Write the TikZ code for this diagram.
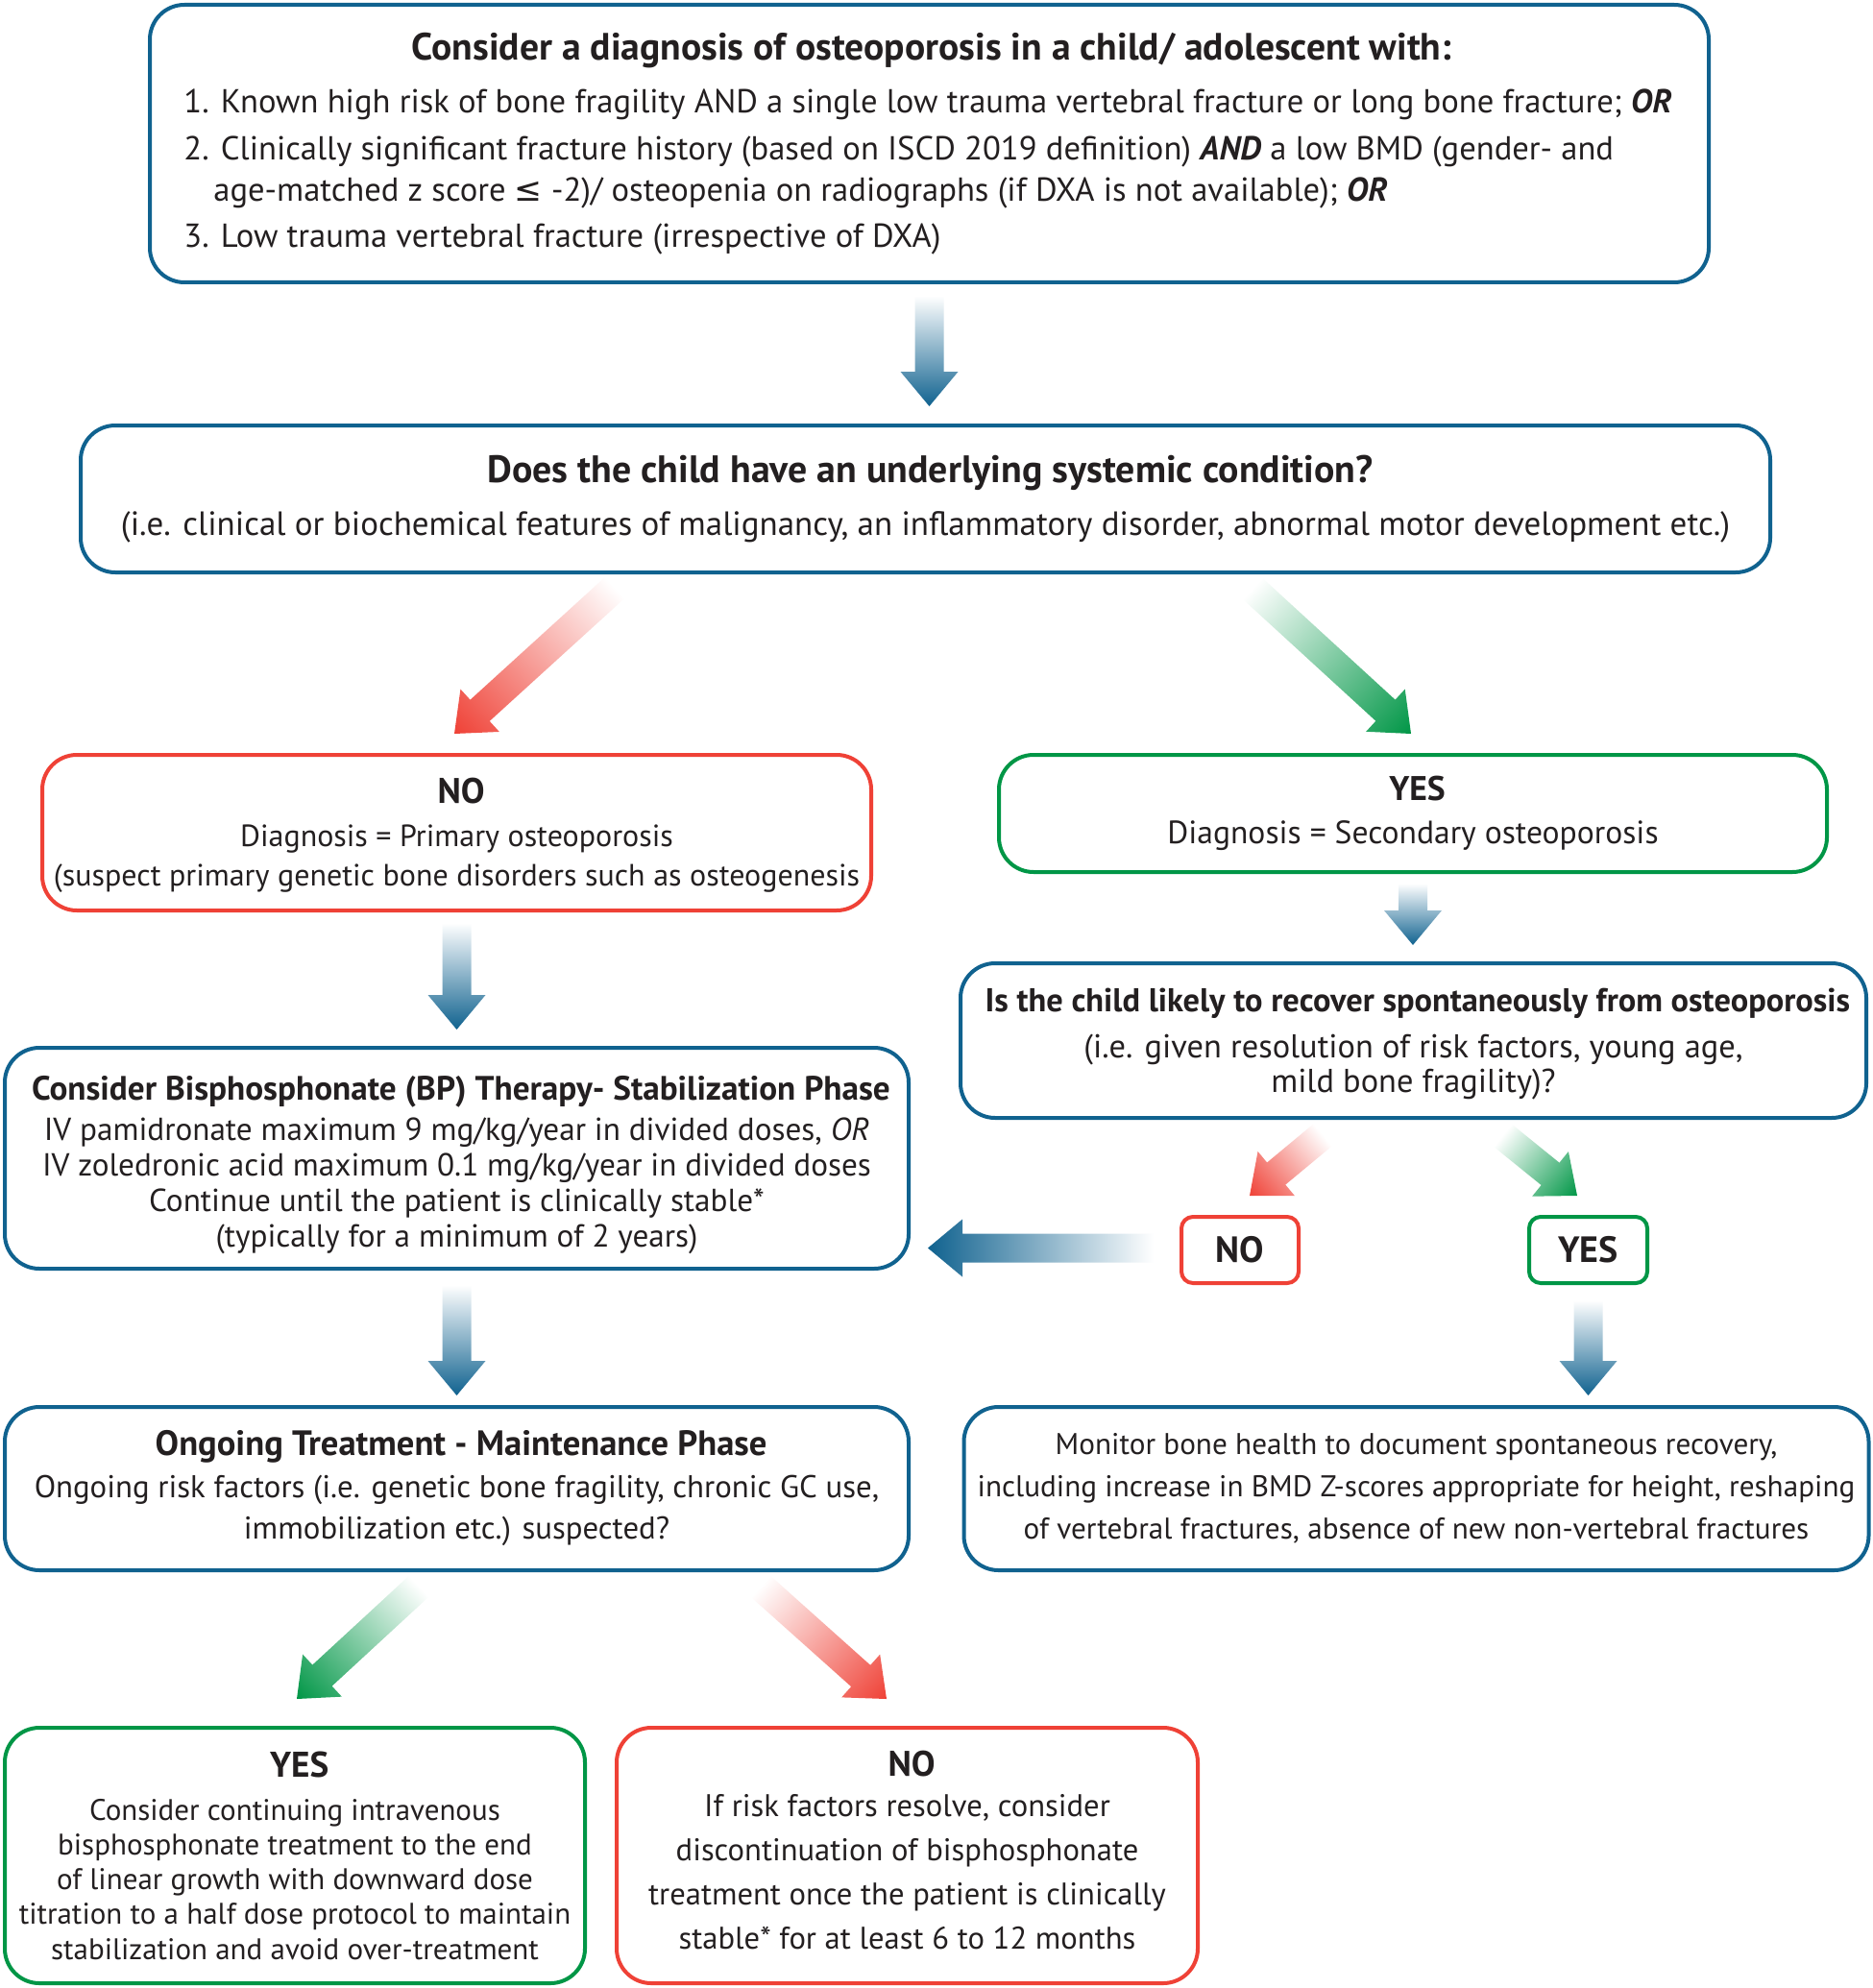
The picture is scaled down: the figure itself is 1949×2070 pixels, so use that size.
\documentclass[tikz,border=0pt]{standalone}
\usepackage{fontspec}
\setmainfont{PT Sans}
\newfontfamily\djv{DejaVu Sans}
\usetikzlibrary{calc}
\definecolor{bblue}{RGB}{16,98,143}
\definecolor{rred}{RGB}{239,65,54}
\definecolor{ggreen}{RGB}{0,150,70}
\definecolor{txt}{RGB}{35,31,32}
\newcommand\hf[1]{\fontsize{#1}{18.5}\selectfont\bfseries}
\newcommand\topfs{\fontsize{17.3}{19}\selectfont}
\newcommand\bi[1]{\textbf{\textit{#1}}}
\newcommand\grarrow[4]{%
  \begin{scope}[transform canvas={shift={(#1)},rotate=#2}]
    \shade[left color=white,right color=#4] (0,0) -- (-36,30) -- (-36,15) -- (-#3,15) -- (-#3,-15) -- (-36,-15) -- (-36,-30) -- cycle;
  \end{scope}}
\begin{document}
\begin{tikzpicture}[x=0.5pt,y=-0.5pt,
  box/.style={draw=#1,line width=2pt,rounded corners=18pt,fill=white,inner sep=0pt,align=center,text=txt},
  smallbox/.style={box=#1,rounded corners=6pt,font=\hf{19}},
  txtline/.style={inner sep=0pt,text=txt,align=center}]
\useasboundingbox[fill=white] (0,0) rectangle (1949,2070);

% ---------- top box
\node[box=bblue,minimum width=811.5pt,minimum height=144.5pt] (top) at (967.5,149.5) {};
\node[txtline,anchor=base,font=\hf{19.8}] (toptitle) at (970,63) {Consider a diagnosis of osteoporosis in a child/ adolescent with:};
\node[txtline,anchor=base west,font=\topfs] (it1) at (191,118) {1. Known high risk of bone fragility AND a single low trauma vertebral fracture or long bone fracture; \bi{OR}};
\node[txtline,anchor=base west,font=\topfs] (it2) at (191,167) {2. Clinically significant fracture history (based on ISCD 2019 definition) \bi{AND} a low BMD (gender- and};
\node[txtline,anchor=base west,font=\topfs] (it2b) at (222,210) {age-matched z score {\djv ≤} -2)/ osteopenia on radiographs (if DXA is not available); \bi{OR}};
\node[txtline,anchor=base west,font=\topfs] (it3) at (191,258) {3. Low trauma vertebral fracture (irrespective of DXA)};

% ---------- systemic condition
\node[box=bblue,minimum width=879.5pt,minimum height=76.5pt,font=\fontsize{17.5}{18.5}\selectfont] (cond) at (963.5,519.5)
  {{\hf{19.9} Does the child have an underlying systemic condition?}\\[9pt]
   (i.e. clinical or biochemical features of malignancy, an inflammatory disorder, abnormal motor development etc.)};

% ---------- NO / YES
\node[box=rred,minimum width=431.5pt,minimum height=81pt] (prim) at (475.5,867) {};
\node[txtline,font=\fontsize{16}{20.5}\selectfont] (prim-t) at ($(prim)+(0,3)$)
  {{\hf{18.5} NO}\\[2pt]Diagnosis = Primary osteoporosis\\(suspect primary genetic bone disorders such as osteogenesis};
\node[box=ggreen,minimum width=431pt,minimum height=61pt,font=\fontsize{16.8}{20.5}\selectfont] (sec) at (1471,847)
  {{\hf{17.8} YES}\\[2pt]Diagnosis = Secondary osteoporosis};

% ---------- recover question
\node[box=bblue,minimum width=471.5pt,minimum height=80.5pt] (rec) at (1471.5,1083.5) {};
\node[txtline,font=\fontsize{17.2}{18}\selectfont] (rec-t) at ($(rec)+(0,4)$)
  {{\hf{17.2} Is the child likely to recover spontaneously from osteoporosis}\\[6pt]
   (i.e. given resolution of risk factors, young age,\\mild bone fragility)?};

% ---------- BP therapy
\node[box=bblue,minimum width=470.5pt,minimum height=115pt] (bp) at (475.5,1206) {};
\node[txtline,font=\fontsize{16.6}{18.5}\selectfont] (bp-t) at ($(bp)+(0,7)$)
  {{\hf{17.6} Consider Bisphosphonate (BP) Therapy- Stabilization Phase}\\[2.5pt]
   IV pamidronate maximum 9 mg/kg/year in divided doses, \textit{OR}\\
   IV zoledronic acid maximum 0.1 mg/kg/year in divided doses\\
   Continue until the patient is clinically stable*\\
   (typically for a minimum of 2 years)};

% ---------- small NO / YES
\node[smallbox=rred,minimum width=61pt,minimum height=34.5pt] (qno) at (1291,1301.5) {NO};
\node[smallbox=ggreen,minimum width=61.5pt,minimum height=34.5pt] (qyes) at (1653.5,1301.5) {YES};

% ---------- ongoing / monitor
\node[box=bblue,minimum width=470.5pt,minimum height=85pt,font=\fontsize{16.4}{21.5}\selectfont] (ong) at (475.5,1550)
  {{\hf{18.3} Ongoing Treatment - Maintenance Phase}\\[0.5pt]
   Ongoing risk factors (i.e. genetic bone fragility, chronic GC use,\\
   immobilization etc.) suspected?};
\node[box=bblue,minimum width=471pt,minimum height=85pt,font=\fontsize{15.6}{22}\selectfont] (mon) at (1474.5,1550)
  {Monitor bone health to document spontaneous recovery,\\
   including increase in BMD Z-scores appropriate for height, reshaping\\
   of vertebral fractures, absence of new non-vertebral fractures};

% ---------- bottom YES / NO
\node[box=ggreen,minimum width=302pt,minimum height=133pt,font=\fontsize{15.5}{18.1}\selectfont] (cont) at (307,1932)
  {{\hf{18.6} YES}\\[4.4pt]
   Consider continuing intravenous\\
   bisphosphonate treatment to the end\\
   of linear growth with downward dose\\
   titration to a half dose protocol to maintain\\
   stabilization and avoid over-treatment};
\node[box=rred,minimum width=302.5pt,minimum height=133pt] (disc) at (944.5,1932) {};
\node[txtline,font=\fontsize{16.3}{23}\selectfont] (disc-t) at ($(disc)+(0,-6)$)
  {{\hf{18.5} NO}\\[-2pt]
   If risk factors resolve, consider\\
   discontinuation of bisphosphonate\\
   treatment once the patient is clinically\\
   stable* for at least 6 to 12 months};

% ---------- arrows (tip coordinates)
\coordinate (a1) at ($(top.south)+(0,127)$);
\coordinate (a2) at (473,764);
\coordinate (a3) at (1469,764);
\coordinate (a4) at ($(sec.south)+(0,74)$);
\coordinate (a5) at ($(prim.south)+(0,122)$);
\coordinate (a6) at (1301,1245);
\coordinate (a7) at (1642,1245);
\coordinate (a8) at ($(bp.east)+(18,93.5)$);
\coordinate (a9) at ($(bp.south)+(0,130)$);
\coordinate (a10) at ($(qyes.south)+(0,115)$);
\coordinate (a11) at (309,1769);
\coordinate (a12) at (923,1769);

\grarrow{a1}{-90}{115}{bblue}
\grarrow{a2}{222.3}{226}{rred}
\grarrow{a3}{317.5}{224}{ggreen}
\grarrow{a4}{-90}{64}{bblue}
\grarrow{a5}{-90}{111}{bblue}
\grarrow{a6}{219.7}{99}{rred}
\grarrow{a7}{321}{100}{ggreen}
\grarrow{a8}{180}{235}{bblue}
\grarrow{a9}{-90}{115}{bblue}
\grarrow{a10}{-90}{99}{bblue}
\grarrow{a11}{222.7}{173}{ggreen}
\grarrow{a12}{318.2}{176}{rred}
\end{tikzpicture}
\end{document}
